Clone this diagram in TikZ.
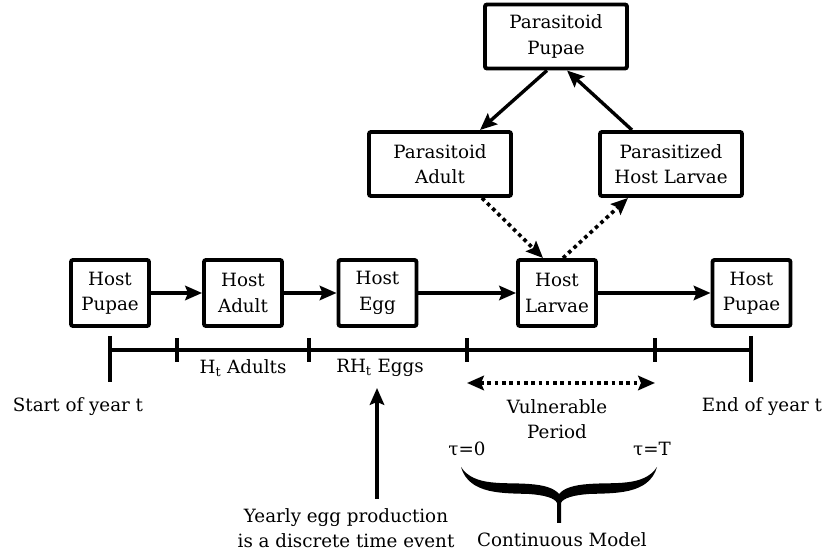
\documentclass[tikz,border=0pt]{standalone}
\usepackage{fontspec}
\setmainfont{DejaVu Serif}
\usetikzlibrary{positioning, arrows.meta}

\begin{document}
\begin{tikzpicture}[
    x=0.025cm, y=-0.025cm,
    >={Stealth[length=0.42cm, width=0.36cm, inset=0.07cm]},
    stage/.style={rectangle, draw, line width=2.8pt, rounded corners=1.5pt, minimum width=1.95cm, minimum height=1.65cm, align=center, inner sep=2pt},
    wide/.style={stage, minimum width=3.55cm, minimum height=1.6cm},
    flow/.style={line width=2.4pt, ->},
    dots/.style={line width=2.6pt, dash pattern=on 2.6pt off 2.6pt},
    axis/.style={line width=2.6pt},
    lbl/.style={align=center, inner sep=1pt},
    font=\fontsize{13}{18}\selectfont
]
  \useasboundingbox (0,0) rectangle (824,556);

  % host stages
  \node[stage] (hp1) at (110,293) {Host\\Pupae};
  \node[stage] (ha) at (243,293) {Host\\Adult};
  \node[stage] (he) at (377.5,293) {Host\\Egg};
  \node[stage] (hl) at (557,293) {Host\\Larvae};
  \node[stage] (hp2) at (751.5,293) {Host\\Pupae};

  % parasitoid stages
  \node[wide] (pp) at (556,36.5) {Parasitoid\\Pupae};
  \node[wide] (pa) at (440,164) {Parasitoid\\Adult};
  \node[wide] (ph) at (671,164) {Parasitized\\Host Larvae};

  % host cycle
  \draw[flow] (hp1) -- (ha);
  \draw[flow] (ha) -- (he);
  \draw[flow] (he) -- (hl);
  \draw[flow] (hl) -- (hp2);

  % parasitoid cycle
  \draw[flow] ([xshift=-0.225cm]pp.south) -- ([xshift=1cm]pa.north);
  \draw[flow] ([xshift=-0.975cm]ph.north) -- ([xshift=0.275cm]pp.south);
  \draw[dots, ->] ([xshift=1.05cm]pa.south) -- ([xshift=-0.35cm]hl.north);
  \draw[dots, ->] ([xshift=0.15cm]hl.north) -- ([xshift=-1.075cm]ph.south);

  % time line
  \coordinate (t0) at (110,350);
  \coordinate (t1) at (177,350);
  \coordinate (t2) at (309,350);
  \coordinate (t3) at (467,350);
  \coordinate (t4) at (655,350);
  \coordinate (t5) at (751,350);
  \draw[axis] (t0) -- (t5);
  \draw[axis] ([yshift=0.35cm]t0) -- ([yshift=-0.8cm]t0);
  \draw[axis] ([yshift=0.35cm]t5) -- ([yshift=-0.8cm]t5);
  \foreach \t in {t1,t2,t3,t4}
    \draw[axis] ([yshift=0.3cm]\t) -- ([yshift=-0.3cm]\t);

  \node[lbl] (adLbl) at (243,368) {H\textsubscript{t} Adults};
  \node[lbl] (egLbl) at (380,368) {RH\textsubscript{t} Eggs};
  \node[lbl] (startLbl) at (78,407) {Start of year t};
  \node[lbl] (endLbl) at (762,407) {End of year t};

  % vulnerable period
  \coordinate (vL) at (467,383);
  \coordinate (vR) at (655,383);
  \draw[dots, <->] (vL) -- (vR);
  \node[lbl] (vulLbl) at (557,419) {Vulnerable\\Period};

  % continuous model
  \node[lbl] (tau0) at (467,449) {τ=0};
  \node[lbl] (tauT) at (652,449) {τ=T};
  \begin{scope}[shift={(559,467)}]
    \fill (-98,0) .. controls (-85,20) and (-55,15) .. (-30,17)
      .. controls (-15,18) and (-5,21) .. (0,27)
      .. controls (5,21) and (15,18) .. (30,17)
      .. controls (55,15) and (85,20) .. (98,0)
      .. controls (90,28) and (55,26) .. (30,27)
      .. controls (15,28) and (4,31) .. (2,36) -- (2,56) -- (-2,56) -- (-2,36)
      .. controls (-4,31) and (-15,28) .. (-30,27)
      .. controls (-55,26) and (-90,28) .. (-98,0) -- cycle;
  \end{scope}
  \node[lbl] (contLbl) at (562,540) {Continuous Model};

  % egg production
  \node[lbl] (prodLbl) at (346,528) {Yearly egg production\\is a discrete time event};
  \coordinate (egTip) at (377,388);
  \draw[flow, shorten <=0.2cm] (prodLbl.north -| egTip) -- (egTip);
\end{tikzpicture}
\end{document}
